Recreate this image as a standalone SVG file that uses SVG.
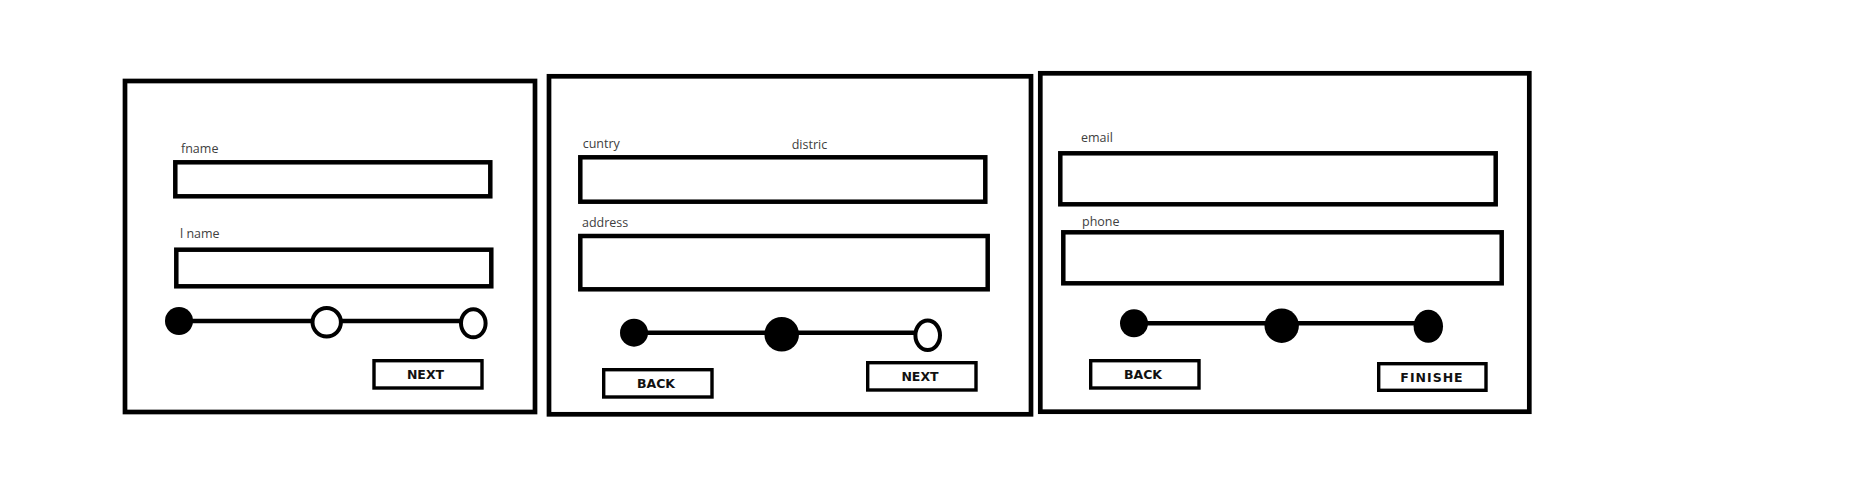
<svg xmlns="http://www.w3.org/2000/svg" width="1875" height="483" viewBox="0 0 1875 483">
<style>
.frame{fill:#fff;stroke:#000;stroke-width:4.7}
.field{fill:#fff;stroke:#000;stroke-width:4.5}
.btn{fill:#fff;stroke:#000;stroke-width:3.4}
.lbl{font-family:"Open Sans","Liberation Sans",sans-serif;font-size:12.5px;fill:#404040}
.btxt{font-family:"DejaVu Sans","Liberation Sans",sans-serif;font-weight:bold;font-size:12.5px;fill:#111;text-anchor:middle}
.track{stroke:#000;stroke-width:4.5;fill:none}
.on{fill:#000}
.off{fill:#fff;stroke:#000;stroke-width:4}
</style>
<rect width="1875" height="483" fill="#fff"/>
<g id="step1">
  <rect class="frame" x="125" y="81" width="410" height="331"/>
  <text class="lbl" x="181" y="153">fname</text>
  <rect class="field" x="175.3" y="162.3" width="315" height="34"/>
  <text class="lbl" x="180" y="238">l name</text>
  <rect class="field" x="176.3" y="249.7" width="315" height="36.6"/>
  <line class="track" x1="179" y1="321" x2="460" y2="321"/>
  <circle class="on" cx="179" cy="321" r="14"/>
  <circle class="off" cx="326.7" cy="322.3" r="14.2"/>
  <ellipse class="off" cx="473.3" cy="323.3" rx="12.3" ry="14"/>
  <rect class="btn" x="374" y="360.7" width="108" height="27.3"/>
  <text class="btxt" x="425.5" y="379">NEXT</text>
</g>
<g id="step2">
  <rect class="frame" x="549" y="76.3" width="482" height="338"/>
  <text class="lbl" x="582.7" y="148.3">cuntry</text>
  <text class="lbl" x="791.7" y="149.3">distric</text>
  <rect class="field" x="580.3" y="157.3" width="405" height="44.4"/>
  <text class="lbl" x="582" y="227.3">address</text>
  <rect class="field" x="580.3" y="236" width="407.4" height="53.3"/>
  <line class="track" x1="634" y1="332.7" x2="915" y2="332.7"/>
  <circle class="on" cx="634" cy="332.7" r="14"/>
  <circle class="on" cx="781.7" cy="334.3" r="17.3"/>
  <ellipse class="off" cx="927.7" cy="335.3" rx="12.3" ry="14.7"/>
  <rect class="btn" x="603.7" y="369.7" width="108.3" height="27.3"/>
  <text class="btxt" x="656" y="388.3">BACK</text>
  <rect class="btn" x="867.7" y="362.7" width="108.3" height="27.3"/>
  <text class="btxt" x="920" y="381">NEXT</text>
</g>
<g id="step3">
  <rect class="frame" x="1040.3" y="73.3" width="489" height="338.4"/>
  <text class="lbl" x="1081" y="141.7">email</text>
  <rect class="field" x="1060.3" y="153.3" width="435.4" height="51"/>
  <text class="lbl" x="1082" y="225.7">phone</text>
  <rect class="field" x="1063.3" y="232.3" width="438.4" height="51"/>
  <line class="track" x1="1134" y1="323.3" x2="1420" y2="323.3"/>
  <circle class="on" cx="1134" cy="323.3" r="14"/>
  <circle class="on" cx="1281.7" cy="325.7" r="17.2"/>
  <ellipse class="on" cx="1428.3" cy="326.3" rx="14.7" ry="16.5"/>
  <rect class="btn" x="1090.7" y="360.7" width="108.3" height="27.3"/>
  <text class="btxt" x="1143" y="379">BACK</text>
  <rect class="btn" x="1378.7" y="363.7" width="107.3" height="26.6"/>
  <text class="btxt" x="1432" y="381.7" letter-spacing="1">FINISHE</text>
</g>
<g id="connectors"></g>
</svg>
